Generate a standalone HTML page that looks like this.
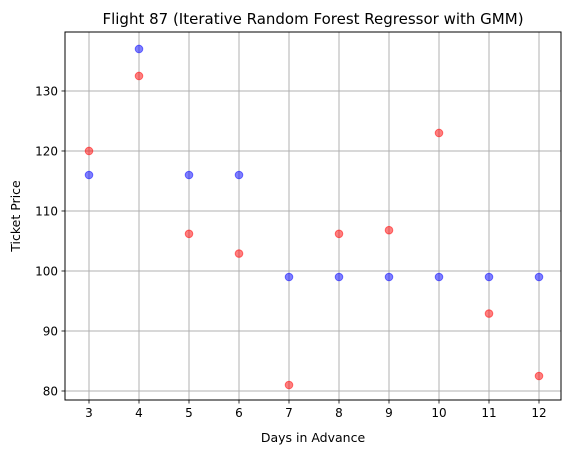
<!DOCTYPE html>
<html><head><meta charset="utf-8"><style>
html,body{margin:0;padding:0;background:#fff;}
svg text{font-family:"DejaVu Sans","Liberation Sans",sans-serif;fill:#000;}
</style></head><body>
<svg id="chart" width="571" height="455" xmlns="http://www.w3.org/2000/svg">
<rect width="571" height="455" fill="#fff"/>
<g id="grid"></g>
<g id="points"></g>
<rect x="65" y="32" width="496" height="368" fill="none" stroke="#000" stroke-width="1"/>
<g id="ticks"></g>
<text x="313" y="24" font-size="15" text-anchor="middle">Flight 87 (Iterative Random Forest Regressor with GMM)</text>
<text x="313" y="442" font-size="12.5" text-anchor="middle">Days in Advance</text>
<text x="20" y="216" font-size="12.5" text-anchor="middle" transform="rotate(-90 20 216)">Ticket Price</text>
</svg>
<script>
const days = [3,4,5,6,7,8,9,10,11,12];
const bluePrices = [116,137,116,116,99,99,99,99,99,99];
const redPrices = [120,132.5,106.2,102.9,81,106.2,106.8,123,92.9,82.5];
const xTicks = [3,4,5,6,7,8,9,10,11,12];
const yTicks = [80,90,100,110,120,130];

const L=65,R=561,T=32,B=400;
const xMin=2.52,xMax=12.44,yMin=78.5,yMax=139.83;
function xs(v){return L+(v-xMin)/(xMax-xMin)*(R-L);}
function ys(v){return B-(v-yMin)/(yMax-yMin)*(B-T);}
const NS="http://www.w3.org/2000/svg";
function mk(tag,attrs,parent){const e=document.createElementNS(NS,tag);for(const k in attrs)e.setAttribute(k,attrs[k]);parent.appendChild(e);return e;}
const grid=document.getElementById('grid'),ticks=document.getElementById('ticks'),pts=document.getElementById('points');
xTicks.forEach(t=>{
  const x=xs(t);
  const g=mk('line',{x1:x,x2:x,y1:T,y2:B,stroke:'#b0b0b0','stroke-width':1},grid);
  
  
  const tk=mk('line',{x1:x,x2:x,y1:B,y2:B+3.5,stroke:'#000','stroke-width':0.8},ticks);
  
  
  const tx=mk('text',{x:x,y:B+17,'font-size':12,'text-anchor':'middle'},ticks);
  tx.textContent=t;
  
  
});
yTicks.forEach(t=>{
  const y=ys(t);
  const g=mk('line',{x1:L,x2:R,y1:y,y2:y,stroke:'#b0b0b0','stroke-width':1},grid);
  
  
  const tk=mk('line',{x1:L-3.5,x2:L,y1:y,y2:y,stroke:'#000','stroke-width':0.8},ticks);
  
  
  const tx=mk('text',{x:L-7,y:y+4.5,'font-size':12,'text-anchor':'end'},ticks);
  tx.textContent=t;
  
  
});
days.forEach((d,i)=>{
  const c=mk('circle',{cx:xs(d),cy:ys(bluePrices[i]),r:3.8,fill:'rgba(0,0,255,0.5)',stroke:'rgba(0,0,255,0.5)','stroke-width':1},pts);
  
  
});
days.forEach((d,i)=>{
  const c=mk('circle',{cx:xs(d),cy:ys(redPrices[i]),r:3.8,fill:'rgba(255,0,0,0.5)',stroke:'rgba(255,0,0,0.5)','stroke-width':1},pts);
  
  
});
</script>
</body></html>
